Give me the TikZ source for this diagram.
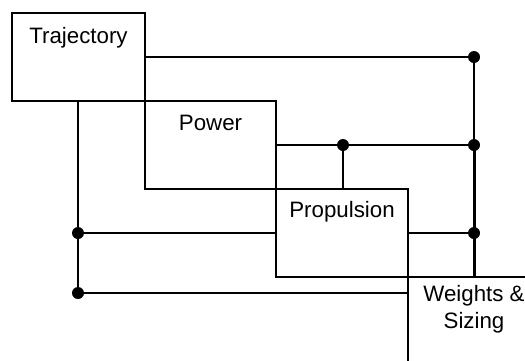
\documentclass[tikz,border=0pt]{standalone}
\usepackage{fontspec}
\setmainfont{Liberation Sans}
\begin{document}
\begin{tikzpicture}[x=1pt,y=-1pt,
  box/.style={draw,rectangle,inner sep=0pt,line width=1.5pt},
  lbl/.style={inner sep=0pt,font=\fontsize{22.3}{27}\selectfont},
  wire/.style={line width=1.5pt},
  bus/.style={line width=3pt},
  dot/.style={circle,fill=black,inner sep=0pt,minimum size=12pt}]
\useasboundingbox (0,0) rectangle (525,360);
\node[box,minimum width=133pt,minimum height=88pt] (traj) at (78.5,57) {};
\node[box,minimum width=131pt,minimum height=88pt] (pow) at (210.5,145) {};
\node[box,minimum width=132pt,minimum height=88pt] (prop) at (342,233) {};
\node[box,minimum width=132pt,minimum height=120pt] (wts) at (474,337) {};
\node[lbl,anchor=base] (ttraj) at (78.5,43) {Trajectory};
\node[lbl,anchor=base] (tpow) at (210.5,130) {Power};
\node[lbl,anchor=base] (tprop) at (342,217) {Propulsion};
\node[lbl,anchor=north,align=center] (twts) at (474,285) {Weights \&\\Sizing};
\coordinate (j1) at (traj.east -| wts.north);
\coordinate (j3) at (pow.east -| wts.north);
\coordinate (j4) at (prop.east -| wts.north);
\coordinate (j2) at (343,145);
\coordinate (j5) at (78,233);
\coordinate (j6) at (78,293);
\draw[wire] (traj.east) -- (j1) -- (j3);
\draw[bus] (j3) -- (wts.north);
\draw[wire] (pow.east) -- (j3);
\draw[wire] (j2) -- (j2 |- prop.north);
\draw[wire] (prop.east) -- (j4);
\draw[wire] (78,101) -- (j6);
\draw[wire] (j5) -- (prop.west);
\draw[wire] (j6) -- (j6 -| wts.west);
\foreach \j in {j1,j2,j3,j4,j5,j6} \node[dot] (d\j) at (\j) {};
\end{tikzpicture}
\end{document}
